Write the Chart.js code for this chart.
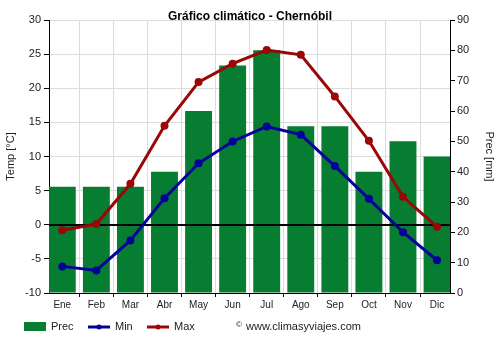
<!DOCTYPE html>
<html>
<head>
<meta charset="utf-8">
<script src="https://cdn.jsdelivr.net/npm/chart.js@4.4.0/dist/chart.umd.min.js"></script>
<style>
body { margin: 0; background: #fff; }
</style>
</head>
<body>
<canvas id="myChart" width="500" height="350"></canvas>
<script>
var meses = ['Ene', 'Feb', 'Mar', 'Abr', 'May', 'Jun', 'Jul', 'Ago', 'Sep', 'Oct', 'Nov', 'Dic'];
var prec = [35, 35, 35, 40, 60, 75, 80, 55, 55, 40, 50, 45];
var tMin = [-6.1, -6.7, -2.3, 3.9, 9.0, 12.2, 14.4, 13.2, 8.6, 3.8, -1.1, -5.2];
var tMax = [-0.8, 0.1, 6.0, 14.5, 20.9, 23.6, 25.6, 24.9, 18.8, 12.3, 4.1, -0.3];
var tempTicks = [-10, -5, 0, 5, 10, 15, 20, 25, 30];
var precTicks = [0, 10, 20, 30, 40, 50, 60, 70, 80, 90];

var verde = '#067d31';
var azul = '#02029a';
var rojo = '#9b0606';
var fuente = 'Liberation Sans, Arial, sans-serif';

// zero line goes over the bars but under the lines
var lineaCero = {
    id: 'lineaCero',
    afterDatasetDraw: function (chart, args) {
        if (args.index !== 0) return;
        var c = chart.ctx, a = chart.chartArea;
        var y = Math.round(chart.scales.y.getPixelForValue(0));
        c.save();
        c.strokeStyle = '#000';
        c.lineWidth = 2;
        c.beginPath();
        c.moveTo(a.left, y);
        c.lineTo(a.right, y);
        c.stroke();
        c.restore();
    }
};

// title, legend and watermark
var textos = {
    id: 'textos',
    afterDraw: function (chart) {
        var c = chart.ctx;
        c.save();
        c.fillStyle = '#000';
        c.textBaseline = 'middle';
        c.textAlign = 'center';
        c.font = 'bold 12px ' + fuente;
        c.fillText('Gráfico climático - Chernóbil', 250, 17);

        c.textAlign = 'left';
        c.font = '11px ' + fuente;
        c.fillStyle = verde;
        c.fillRect(24, 322, 22, 9);
        c.fillStyle = '#222';
        c.fillText('Prec', 51, 327);

        [[88, azul, 'Min'], [147, rojo, 'Max']].forEach(function (it) {
            c.strokeStyle = it[1];
            c.fillStyle = it[1];
            c.lineWidth = 3;
            c.beginPath();
            c.moveTo(it[0], 327);
            c.lineTo(it[0] + 22, 327);
            c.stroke();
            c.beginPath();
            c.arc(it[0] + 11, 327, 2.5, 0, Math.PI * 2);
            c.fill();
            c.fillStyle = '#222';
            c.fillText(it[2], it[0] + 27, 327);
        });

        c.font = '8px ' + fuente;
        c.fillText('©', 236, 325);
        c.font = '11px ' + fuente;
        c.fillText('www.climasyviajes.com', 246, 327);
        c.restore();
    }
};

var ctx = document.getElementById('myChart').getContext('2d');
var myChart = new Chart(ctx, {
    type: 'bar',
    data: {
        labels: meses,
        datasets: [{
            type: 'bar',
            label: 'Prec',
            data: prec,
            backgroundColor: verde,
            yAxisID: 'y1',
            order: 3,
            categoryPercentage: 1,
            barPercentage: 0.79
        }, {
            type: 'line',
            label: 'Min',
            data: tMin,
            borderColor: azul,
            backgroundColor: azul,
            borderWidth: 3,
            pointRadius: 4,
            pointBorderWidth: 0,
            yAxisID: 'y',
            order: 1
        }, {
            type: 'line',
            label: 'Max',
            data: tMax,
            borderColor: rojo,
            backgroundColor: rojo,
            borderWidth: 3,
            pointRadius: 4,
            pointBorderWidth: 0,
            yAxisID: 'y',
            order: 1
        }]
    },
    options: {
        responsive: false,
        animation: false,
        devicePixelRatio: 1,
        layout: { padding: { top: 20, bottom: 37, left: 0, right: 0 } },
        plugins: {
            legend: { display: false },
            title: { display: false },
            tooltip: { enabled: false }
        },
        scales: {
            x: {
                offset: true,
                grid: { color: '#dcdcdc', tickColor: '#000', tickLength: 4 },
                border: { color: '#000' },
                ticks: { font: { family: fuente, size: 10 }, color: '#222', padding: 2 },
                afterBuildTicks: function (s) {
                    // first bar starts at the left axis, last one ends at the right axis
                    s._startValue = -0.39;
                    s._valueRange = 11.77;
                },
                afterFit: function (s) { s.height = 20; }
            },
            y: {
                position: 'left',
                min: -10,
                max: 30,
                afterBuildTicks: function (s) {
                    s.ticks = tempTicks.map(function (v) { return { value: v }; });
                },
                grid: { color: '#dcdcdc', tickColor: '#000', tickLength: 5 },
                border: { color: '#000' },
                ticks: { font: { family: fuente, size: 11 }, color: '#222', padding: 3 },
                title: { display: true, text: 'Temp [°C]', color: '#222', font: { family: fuente, size: 11 }, padding: { top: 4, bottom: 0 } },
                afterFit: function (s) { s.width = 49; }
            },
            y1: {
                position: 'right',
                min: 0,
                max: 90,
                afterBuildTicks: function (s) {
                    s.ticks = precTicks.map(function (v) { return { value: v }; });
                },
                grid: { drawOnChartArea: false, tickColor: '#000', tickLength: 5 },
                border: { color: '#000' },
                ticks: { font: { family: fuente, size: 11 }, color: '#222', padding: 2 },
                title: { display: true, text: 'Prec [mm]', color: '#222', font: { family: fuente, size: 11 }, padding: { top: 4, bottom: 0 } },
                afterFit: function (s) { s.width = 50; }
            }
        }
    },
    plugins: [lineaCero, textos]
});
</script>
</body>
</html>
